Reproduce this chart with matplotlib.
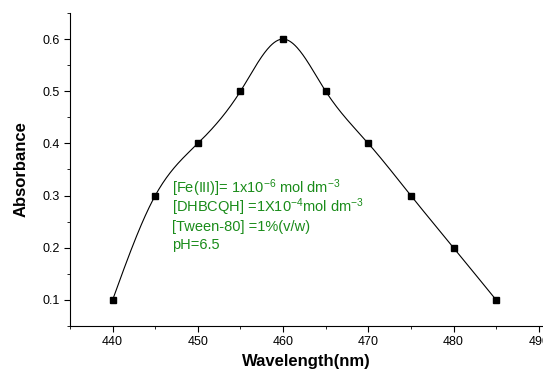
import numpy as np
import matplotlib
matplotlib.use('Agg')
import matplotlib.pyplot as plt
from matplotlib.ticker import MultipleLocator

plt.rcParams['font.family'] = ['Liberation Sans', 'DejaVu Sans']
plt.rcParams['mathtext.fontset'] = 'custom'
plt.rcParams['mathtext.rm'] = 'Liberation Sans'
plt.rcParams['mathtext.it'] = 'Liberation Sans'

wavelength = [440, 445, 450, 455, 460, 465, 470, 475, 480, 485]
absorbance = [0.1, 0.3, 0.4, 0.5, 0.6, 0.5, 0.4, 0.3, 0.2, 0.1]

notes = [r'[Fe(III)]= 1x10$^{\mathrm{-6}}$ mol dm$^{\mathrm{-3}}$',
         r'[DHBCQH] =1X10$^{\mathrm{-4}}$mol dm$^{\mathrm{-3}}$',
         '[Tween-80] =1%(v/w)',
         'pH=6.5']


def natural_spline(x, y, n=400):
    # natural cubic spline through the measured points (smooth connecting line)
    x = np.asarray(x, float)
    y = np.asarray(y, float)
    k = len(x)
    h = np.diff(x)
    A = np.zeros((k, k))
    b = np.zeros(k)
    A[0, 0] = A[-1, -1] = 1
    for i in range(1, k - 1):
        A[i, i - 1] = h[i - 1]
        A[i, i] = 2 * (h[i - 1] + h[i])
        A[i, i + 1] = h[i]
        b[i] = 6 * ((y[i + 1] - y[i]) / h[i] - (y[i] - y[i - 1]) / h[i - 1])
    M = np.linalg.solve(A, b)
    xs = np.linspace(x[0], x[-1], n)
    idx = np.clip(np.searchsorted(x, xs) - 1, 0, k - 2)
    x0, x1 = x[idx], x[idx + 1]
    hh = x1 - x0
    t0, t1 = x1 - xs, xs - x0
    ys = (M[idx] * t0**3 + M[idx + 1] * t1**3) / (6 * hh) \
        + (y[idx] / hh - M[idx] * hh / 6) * t0 \
        + (y[idx + 1] / hh - M[idx + 1] * hh / 6) * t1
    return xs, ys


fig = plt.figure(figsize=(5.43, 3.73), dpi=100)
ax = fig.add_axes([70 / 543, 47 / 373, 473 / 543, 313 / 373])

xs, ys = natural_spline(wavelength, absorbance)
ax.plot(xs, ys, color='black', lw=0.8)
ax.plot(wavelength, absorbance, 's', color='black', markersize=5)

ax.set_xlim(435, 490.5)
ax.set_ylim(0.05, 0.65)
ax.xaxis.set_major_locator(MultipleLocator(10))
ax.xaxis.set_minor_locator(MultipleLocator(5))
ax.yaxis.set_major_locator(MultipleLocator(0.1))
ax.yaxis.set_minor_locator(MultipleLocator(0.05))
ax.spines['top'].set_visible(False)
ax.spines['right'].set_visible(False)
ax.tick_params(which='major', direction='out', length=4, labelsize=9)
ax.tick_params(which='minor', direction='out', length=2.5)
ax.set_xlabel('Wavelength(nm)', fontsize=12, fontweight='bold', labelpad=4)
ax.set_ylabel('Absorbance', fontsize=12, fontweight='bold', labelpad=10)

# one text per line keeps the spacing even with the superscripts
for i, line in enumerate(notes):
    ax.text(0.216, 0.425 - i * 0.06, line, transform=ax.transAxes,
            color='#1a8c1a', fontsize=10.5, va='baseline', ha='left')

fig.savefig('out.png', dpi=100)
